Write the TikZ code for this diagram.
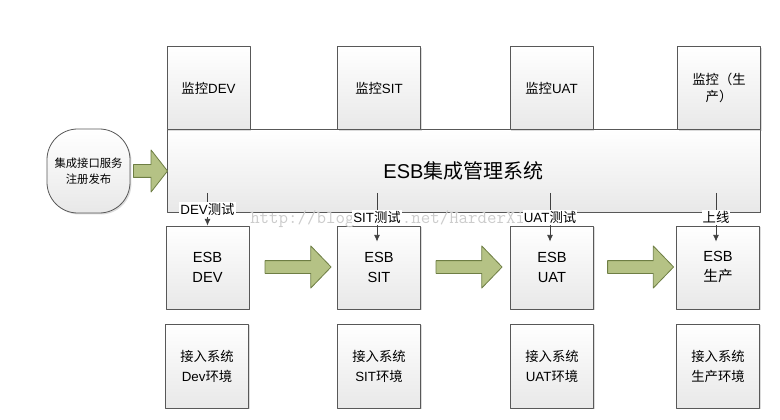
\documentclass[tikz,border=0pt]{standalone}
\usepackage{fontspec}
\setmainfont{Liberation Sans}
\newfontfamily\cjk{Noto Sans CJK SC}
\newcommand{\zh}[1]{{\cjk #1}}
\usetikzlibrary{shapes.arrows,shadows,arrows.meta}
\definecolor{boxline}{RGB}{88,88,88}
\definecolor{fatfill}{RGB}{181,194,133}
\definecolor{fatline}{RGB}{110,126,68}
\begin{document}
\begin{tikzpicture}[x=0.75pt,y=-0.75pt,line join=round,line cap=round,
 box/.style={draw=boxline,line width=0.6pt,top color=white,bottom color=black!9,
  drop shadow={opacity=0.28,shadow xshift=1.1pt,shadow yshift=-1.1pt},
  minimum width=62.25pt,minimum height=62.25pt,inner sep=1pt,align=center},
 montext/.style={font=\fontsize{10}{10}\selectfont},
 esbtext/.style={font=\fontsize{11}{15}\selectfont},
 acctext/.style={font=\fontsize{10}{15}\selectfont},
 fatarrow/.style={single arrow,draw=fatline,fill=fatfill,line width=0.6pt,
  inner xsep=0pt,inner ysep=4.5pt,single arrow head extend=11pt,
  single arrow tip angle=92,minimum height=49.5pt},
 stepline/.style={draw=black!75,line width=0.6pt,-{Latex[length=5pt,width=4.5pt]}},
 steplabel/.style={fill=white,inner sep=0.8pt,font=\fontsize{10}{10}\selectfont}]
 \useasboundingbox (0,0) rectangle (780,420);
 % management system and monitors on top of it
 \node[box,minimum width=444.75pt,font=\fontsize{15}{15}\selectfont] (esbMgr) at (463.5,170.5) {ESB\zh{集成管理系统}};
 \node[box,montext] (monDEV) at (208.5,88) {\zh{监控}DEV};
 \node[box,montext] (monSIT) at (379,88) {\zh{监控}SIT};
 \node[box,montext] (monUAT) at (551.5,88) {\zh{监控}UAT};
 \node[box,montext,font=\fontsize{10}{13}\selectfont] (monPRD) at (719,88) {\zh{监控（生}\\\zh{产）}};
 \node[box,rounded corners=23pt,minimum height=63pt,font=\fontsize{8.5}{12}\selectfont] (regSvc) at (88.5,171) {\zh{集成接口服务}\\\zh{注册发布}};
 % ESB environments
 \node[box,esbtext] (esbDEV) at (207.5,267.5) {ESB\\DEV};
 \node[box,esbtext] (esbSIT) at (379,267.5) {ESB\\SIT};
 \node[box,esbtext] (esbUAT) at (552,267.5) {ESB\\UAT};
 \node[box,esbtext] (esbPRD) at (718,267.5) {ESB\\\zh{生产}};
 \node[box,acctext,minimum height=63pt] (accDEV) at (207,366) {\zh{接入系统}\\Dev\zh{环境}};
 \node[box,acctext,minimum height=63pt] (accSIT) at (379,366) {\zh{接入系统}\\SIT\zh{环境}};
 \node[box,acctext,minimum height=63pt] (accUAT) at (552,366) {\zh{接入系统}\\UAT\zh{环境}};
 \node[box,acctext,minimum height=63pt] (accPRD) at (718,366) {\zh{接入系统}\\\zh{生产环境}};
 \node[fatarrow,minimum height=25.5pt,single arrow tip angle=104] (fat0) at (148,171) {};
 \node[fatarrow] (fat1) at (295,267) {};
 \node[fatarrow] (fat2) at (466,267) {};
 \node[fatarrow] (fat3) at (637.5,267) {};
 \node[anchor=west,inner sep=0pt,text=black!20,font=\ttfamily\fontsize{13.8}{14}\selectfont] (wmark) at (250,219) {http://blog.csdn.net/HarderXin};
 \draw[stepline] ([yshift=14.25pt]esbDEV.north |- esbMgr.south) -- (esbDEV.north) node[midway,steplabel] {DEV\zh{测试}};
 \draw[stepline] ([xshift=-1.5pt,yshift=14.25pt]esbSIT.north |- esbMgr.south) -- ([xshift=-1.5pt,yshift=-12pt]esbSIT.north) node[midway,steplabel] {SIT\zh{测试}};
 \draw[stepline] ([xshift=-1.5pt,yshift=14.25pt]esbUAT.north |- esbMgr.south) -- ([xshift=-1.5pt,yshift=-12pt]esbUAT.north) node[midway,steplabel] {UAT\zh{测试}};
 \draw[stepline] ([xshift=-1.5pt,yshift=14.25pt]esbPRD.north |- esbMgr.south) -- ([xshift=-1.5pt,yshift=-12pt]esbPRD.north) node[midway,steplabel] {\zh{上线}};
\end{tikzpicture}
\end{document}
